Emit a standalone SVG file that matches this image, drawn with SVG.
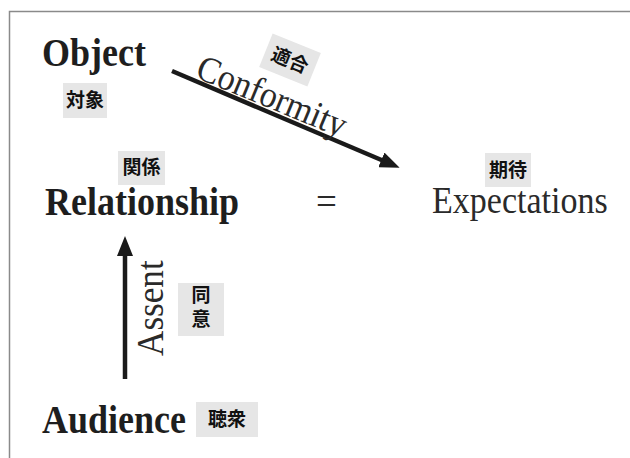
<svg xmlns="http://www.w3.org/2000/svg" width="630" height="458" viewBox="0 0 630 458">
<defs>
<style>
.en-b{font-family:"Liberation Serif","Times New Roman",serif;font-weight:bold;font-size:40px;fill:#1e1e1e}
.en{font-family:"Liberation Serif","Times New Roman",serif;font-size:37px;fill:#2a2a2a}
.jp{font-family:"Noto Sans CJK JP","Noto Sans CJK SC",sans-serif;font-weight:bold;font-size:19px;fill:#111;text-anchor:middle}
.tag{fill:#e6e6e6}
.conn{stroke:#1a1a1a;stroke-width:4.5;fill:none}
</style>
<marker id="ah2" viewBox="0 0 20 16" refX="4" refY="8" markerWidth="20" markerHeight="16" orient="auto" markerUnits="userSpaceOnUse">
<path d="M0,0 L20,8 L0,16 z" fill="#1a1a1a"/>
</marker>
</defs>
<rect x="0" y="0" width="630" height="458" fill="#fff"/>
<path d="M9.5,458 V11.5 H630" fill="none" stroke="#8a8a8a" stroke-width="1.5"/>

<g id="connectors">
<line class="conn" x1="172" y1="71" x2="385" y2="161.5" marker-end="url(#ah2)"/>
<line class="conn" x1="125" y1="379" x2="125" y2="252" marker-end="url(#ah2)"/>
<text class="en" font-size="35" transform="translate(194,77) rotate(22.5) scale(0.92,1)">Conformity</text>
<g transform="translate(290,60) rotate(22)">
<rect class="tag" x="-26" y="-18" width="52" height="36"/>
<text class="jp" x="0" y="7">適合</text>
</g>
<text class="en" font-size="34" transform="translate(163,356) rotate(-90) scale(0.95,1)">Assent</text>
<g>
<rect class="tag" x="178" y="283" width="46" height="53"/>
<text class="jp" x="201" y="309.5" style="writing-mode:vertical-rl;letter-spacing:5px">同意</text>
</g>
</g>

<g id="object">
<text class="en-b" transform="translate(42,66) scale(0.9,1)">Object</text>
<rect class="tag" x="63" y="83" width="44" height="35"/>
<text class="jp" x="85" y="107">対象</text>
</g>

<g id="relationship">
<rect class="tag" x="118" y="151" width="47" height="34"/>
<text class="jp" x="141.5" y="174">関係</text>
<text class="en-b" transform="translate(45,215) scale(0.9,1)">Relationship</text>
</g>

<g id="equals">
<text class="en" x="316" y="214">=</text>
</g>

<g id="expectations">
<rect class="tag" x="485" y="153" width="46" height="34"/>
<text class="jp" x="508" y="177">期待</text>
<text class="en" transform="translate(432,213) scale(0.92,1)">Expectations</text>
</g>

<g id="audience">
<text class="en-b" transform="translate(42,433) scale(0.9,1)">Audience</text>
<rect class="tag" x="196" y="402" width="62" height="35"/>
<text class="jp" x="227" y="426">聴衆</text>
</g>
</svg>
